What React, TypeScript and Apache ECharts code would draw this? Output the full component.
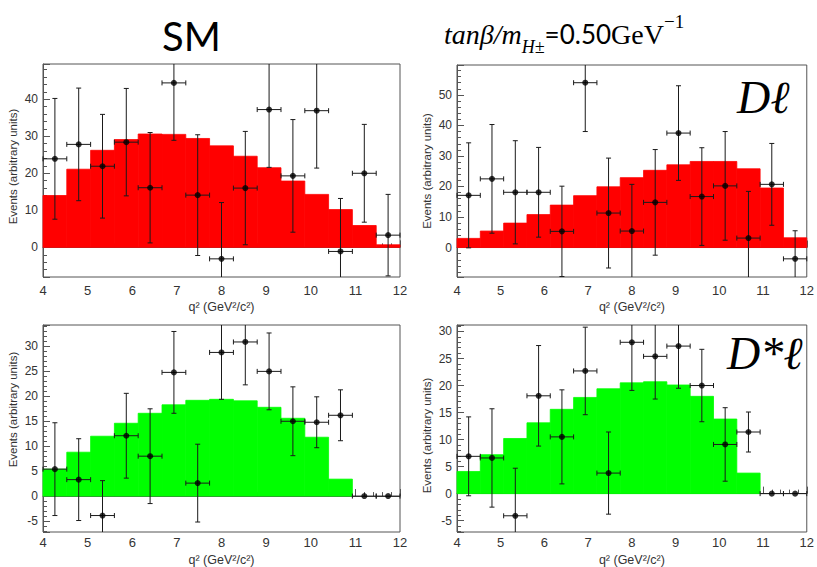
import React, { useEffect, useRef } from "react";
import * as echarts from "echarts";

// q² bin edges (GeV²/c²), 15 bins from 4 to 12
const binEdges = [4.0, 4.533, 5.067, 5.6, 6.133, 6.667, 7.2, 7.733, 8.267, 8.8, 9.333, 9.867, 10.4, 10.933, 11.467, 12.0];

// SM, D l
const smDlHist = [14.0, 21.1, 26.2, 29.1, 30.6, 30.5, 29.4, 27.4, 24.6, 21.5, 17.9, 14.3, 10.2, 5.9, 0.7];
const smDlData = [23.9, 27.8, 21.9, 28.4, 16.1, 44.4, 14.1, -3.1, 16.0, 37.2, 19.3, 36.9, -1.1, 20.0, 3.3];
const smDlErr = [16.3, 15.2, 14.0, 14.5, 14.9, 15.5, 16.3, 15.2, 15.3, 15.6, 15.2, 15.5, 14.3, 13.2, 11.0];

// tanβ/mH = 0.50, D l
const hpDlHist = [3.0, 5.4, 8.0, 10.8, 13.9, 17.0, 19.9, 22.9, 25.3, 27.1, 28.2, 28.2, 25.8, 19.5, 3.2];
const hpDlData = [17.1, 22.5, 18.1, 18.1, 5.3, 54.0, 11.3, 5.4, 14.8, 37.5, 16.7, 20.2, 3.1, 20.7, -3.7];
const hpDlErr = [17.2, 17.8, 16.9, 14.7, 14.8, 16.0, 18.0, 15.3, 17.3, 15.5, 16.0, 17.8, 15.3, 13.4, 9.2];

// SM, D* l
const smDsHist = [5.4, 8.8, 12.0, 14.6, 16.6, 18.3, 19.2, 19.4, 19.1, 17.8, 15.6, 11.8, 3.4, 0, 0];
const smDsData = [5.4, 3.3, -3.9, 12.1, 8.0, 24.8, 2.6, 28.8, 30.9, 25.0, 15.0, 14.8, 16.2, 0, 0];
const smDsErr = [9.3, 8.2, 7.0, 8.5, 9.5, 8.2, 7.8, 9.4, 8.6, 7.7, 6.9, 5.1, 5.1, 0, 0];

// tanβ/mH = 0.50, D* l
const hpDsHist = [4.1, 7.2, 10.2, 13.1, 15.6, 17.8, 19.4, 20.5, 20.7, 20.1, 18.0, 13.8, 3.8, 0, 0];
const hpDsData = [6.9, 6.6, -4.1, 18.1, 10.5, 22.7, 3.8, 28.0, 25.4, 27.3, 20.0, 9.1, 11.4, 0, 0];
const hpDsErr = [7.3, 9.1, 8.8, 9.3, 8.7, 8.1, 7.6, 8.9, 7.9, 7.8, 6.7, 6.8, 3.7, 0, 0];

const xTitle = "q² (GeV²/c²)";
const yTitle = "Events (arbitrary units)";

const panels = [
  { hist: smDlHist, data: smDlData, err: smDlErr, color: "#ff0000", grid: { left: 43, top: 64, width: 357, height: 213 }, yMin: -8, yMax: 49.5, split: 5, yPad: [0, 0, 0, 8], xMargin: 7, xGap: 23 },
  { hist: hpDlHist, data: hpDlData, err: hpDlErr, color: "#ff0000", grid: { left: 457, top: 65, width: 356, height: 212 }, yMin: -9.65, yMax: 59.8, split: 5, yPad: [0, 0, 0, 0], xMargin: 7, xGap: 23 },
  { hist: smDsHist, data: smDsData, err: smDsErr, color: "#00ff00", grid: { left: 43, top: 325, width: 357, height: 210 }, yMin: -7.2, yMax: 34.3, split: 8, yPad: [0, 0, 0, 38], xMargin: 4, xGap: 21 },
  { hist: hpDsHist, data: hpDsData, err: hpDsErr, color: "#00ff00", grid: { left: 457, top: 325, width: 356, height: 210 }, yMin: -7.1, yMax: 31.2, split: 8, yPad: [0, 14, 0, 0], xMargin: 4, xGap: 21 },
];

const frameColor = "#555";
const labelColor = "#333";

function histRender(color: string) {
  return (params: any, api: any) => {
    const lo = api.value(0), hi = api.value(1), v = api.value(2);
    const a = api.coord([lo, v]);
    const b = api.coord([hi, 0]);
    return {
      type: "rect",
      shape: { x: a[0], y: Math.min(a[1], b[1]), width: b[0] - a[0], height: Math.abs(b[1] - a[1]) },
      style: { fill: color, stroke: v !== 0 ? color : null, lineWidth: 0.8 },
    };
  };
}

function errRender(params: any, api: any) {
  const cs = params.coordSys;
  const top = cs.y, bot = cs.y + cs.height;
  const x = api.value(0), y = api.value(1), e = api.value(2), lo = api.value(3), hi = api.value(4);
  const pl = api.coord([lo, y]);
  const pr = api.coord([hi, y]);
  const pc = api.coord([x, y]);
  const style = { stroke: "#1a1a1a", lineWidth: 1 };
  const cap = 2.5;
  const children: any[] = [
    { type: "line", shape: { x1: pl[0], y1: pl[1], x2: pr[0], y2: pr[1] }, style },
    { type: "line", shape: { x1: pl[0], y1: pl[1] - cap, x2: pl[0], y2: pl[1] + cap }, style },
    { type: "line", shape: { x1: pr[0], y1: pr[1] - cap, x2: pr[0], y2: pr[1] + cap }, style },
  ];
  if (e > 0) {
    const pt = api.coord([x, y + e]);
    const pb = api.coord([x, y - e]);
    const yt = Math.max(pt[1], top);
    const yb = Math.min(pb[1], bot);
    children.push({ type: "line", shape: { x1: pc[0], y1: yt, x2: pc[0], y2: yb }, style });
    if (pt[1] >= top) children.push({ type: "line", shape: { x1: pc[0] - cap, y1: yt, x2: pc[0] + cap, y2: yt }, style });
    if (pb[1] <= bot) children.push({ type: "line", shape: { x1: pc[0] - cap, y1: yb, x2: pc[0] + cap, y2: yb }, style });
  }
  return { type: "group", children };
}

export default function App() {
  const ref = useRef<HTMLDivElement>(null);
  useEffect(() => {
    if (!ref.current) return;
    const chart = echarts.init(ref.current, null, { renderer: "svg" });
    const grid = panels.map((p) => ({ ...p.grid, show: true, borderColor: frameColor, borderWidth: 1, backgroundColor: "transparent" }));
    const xAxis = panels.map((p, i) => ({
      type: "value",
      gridIndex: i,
      min: 4,
      max: 12,
      interval: 1,
      axisLine: { show: true, lineStyle: { color: frameColor } },
      axisTick: { show: true, inside: true, length: 7, lineStyle: { color: frameColor } },
      minorTick: { show: true, splitNumber: 5, length: 4, lineStyle: { color: frameColor } },
      splitLine: { show: false },
      axisLabel: { color: labelColor, fontSize: 13, fontFamily: "Liberation Sans", margin: p.xMargin },
      name: xTitle,
      nameLocation: "middle",
      nameGap: p.xGap,
      nameTextStyle: { color: labelColor, fontSize: 12.5, fontFamily: "Liberation Sans" },
    }));
    const yAxis = panels.map((p, i) => ({
      type: "value",
      gridIndex: i,
      min: p.yMin,
      max: p.yMax,
      splitNumber: p.split,
      axisLine: { show: true, onZero: false, lineStyle: { color: frameColor } },
      axisTick: { show: true, inside: true, length: 7, lineStyle: { color: frameColor } },
      minorTick: { show: true, splitNumber: 5, length: 4, lineStyle: { color: frameColor } },
      splitLine: { show: false },
      axisLabel: { color: labelColor, fontSize: 12, fontFamily: "Liberation Sans", margin: 5, showMinLabel: false, showMaxLabel: false },
      name: yTitle,
      nameLocation: "middle",
      nameGap: 24,
      nameTextStyle: { color: labelColor, fontSize: 11.5, fontFamily: "Liberation Sans", padding: p.yPad },
    }));
    const series: any[] = [];
    panels.forEach((p, i) => {
      const histData = p.hist.map((v, k) => [binEdges[k], binEdges[k + 1], v]);
      const errData = p.data.map((v, k) => [(binEdges[k] + binEdges[k + 1]) / 2, v, p.err[k], binEdges[k], binEdges[k + 1]]);
      const ptData = p.data.map((v, k) => [(binEdges[k] + binEdges[k + 1]) / 2, v]);
      series.push({
        type: "custom",
        xAxisIndex: i,
        yAxisIndex: i,
        renderItem: histRender(p.color),
        data: histData,
        encode: { x: [0, 1], y: 2 },
        z: 1,
        silent: true,
      });
      series.push({
        type: "custom",
        xAxisIndex: i,
        yAxisIndex: i,
        renderItem: errRender,
        data: errData,
        encode: { x: 0, y: 1 },
        z: 3,
        silent: true,
      });
      series.push({
        type: "scatter",
        xAxisIndex: i,
        yAxisIndex: i,
        data: ptData,
        symbol: "circle",
        symbolSize: 6,
        itemStyle: { color: "#000" },
        z: 4,
        silent: true,
      });
    });
    chart.setOption({
      animation: false,
      backgroundColor: "#fff",
      grid,
      xAxis,
      yAxis,
      series,
      graphic: [
        { type: "text", left: 162, top: 16, style: { text: "SM", fontSize: 40, fontFamily: "Lato", fill: "#000" } },
        {
          type: "text",
          left: 444,
          top: 12,
          style: {
            text: "{i|tanβ/m}{sub|H±}{n|=0.50}{s|GeV}{sup|−1}",
            fill: "#000",
            rich: {
              i: { fontFamily: "Liberation Serif", fontStyle: "italic", fontSize: 28, lineHeight: 44, verticalAlign: "middle", fill: "#000" },
              sub: { fontFamily: "Liberation Serif", fontStyle: "italic", fontSize: 18, lineHeight: 18, verticalAlign: "bottom", fill: "#000" },
              n: { fontFamily: "Lato", fontSize: 26, lineHeight: 44, verticalAlign: "middle", fill: "#000" },
              s: { fontFamily: "Liberation Serif", fontSize: 28, lineHeight: 44, verticalAlign: "middle", fill: "#000" },
              sup: { fontFamily: "Liberation Serif", fontSize: 19, lineHeight: 20, verticalAlign: "top", fill: "#000" },
            },
          },
        },
        { type: "text", left: 737, top: 74, style: { text: "Dℓ", fontSize: 46, fontFamily: "Liberation Serif", fontStyle: "italic", fill: "#000" } },
        { type: "text", left: 727, top: 330, style: { text: "D*ℓ", fontSize: 46, fontFamily: "Liberation Serif", fontStyle: "italic", fill: "#000" } },
      ],
    });
    return () => chart.dispose();
  }, []);
  return <div ref={ref} style={{ position: "absolute", left: 0, top: 0, width: 817, height: 567 }} />;
}
